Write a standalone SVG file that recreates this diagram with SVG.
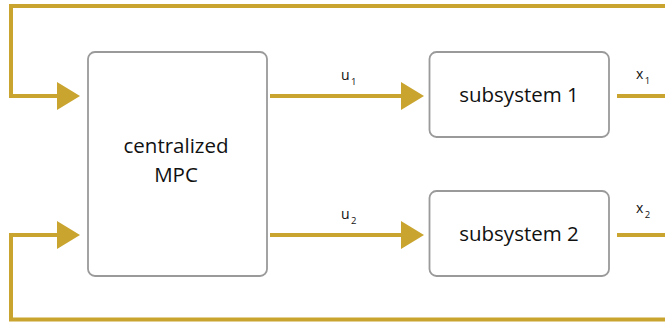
<svg xmlns="http://www.w3.org/2000/svg" width="665" height="322" viewBox="0 0 665 322">
<defs>
<marker id="ah" markerUnits="userSpaceOnUse" markerWidth="24" markerHeight="28" refX="0" refY="14" orient="auto" overflow="visible">
<path d="M0,0 L23,14 L0,28 Z" fill="#C9A42E"/>
</marker>
<style>
.box{fill:#fff;stroke:#9a9a9a;stroke-width:1.8}
.lbl{font-family:"Open Sans","Noto Sans",sans-serif;font-size:20.5px;fill:#111;text-anchor:middle}
.sm{font-family:"Open Sans","Noto Sans",sans-serif;font-size:14px;fill:#111}
.sub{font-size:9.5px}
.w{fill:none;stroke:#C9A42E;stroke-width:4;stroke-linejoin:miter}
</style>
</defs>
<rect width="665" height="322" fill="#fff"/>
<g id="connectors">
<path class="w" d="M665,6 H11 V96 H57" marker-end="url(#ah)"/>
<path class="w" d="M665,319.5 H11 V235 H57" marker-end="url(#ah)"/>
<path class="w" d="M270,96 H401" marker-end="url(#ah)"/>
<path class="w" d="M270,235 H401" marker-end="url(#ah)"/>
<path class="w" d="M617,96 H665"/>
<path class="w" d="M617,235 H665"/>
<text class="sm" x="341" y="80">u<tspan class="sub" dx="1.5" dy="5">1</tspan></text>
<text class="sm" x="341" y="219">u<tspan class="sub" dx="1.5" dy="5">2</tspan></text>
<text class="sm" x="636" y="79">x<tspan class="sub" dx="1.5" dy="5">1</tspan></text>
<text class="sm" x="636" y="213">x<tspan class="sub" dx="1.5" dy="5">2</tspan></text>
</g>
<g id="mpc">
<rect class="box" x="88" y="52" width="179" height="224" rx="7"/>
<text class="lbl" x="176" y="153">centralized</text>
<text class="lbl" x="176" y="182">MPC</text>
</g>
<g id="subsystem1">
<rect class="box" x="429.5" y="52" width="179.5" height="85" rx="7"/>
<text class="lbl" x="519" y="102">subsystem 1</text>
</g>
<g id="subsystem2">
<rect class="box" x="429.5" y="191" width="179.5" height="85" rx="7"/>
<text class="lbl" x="519" y="241">subsystem 2</text>
</g>
</svg>
